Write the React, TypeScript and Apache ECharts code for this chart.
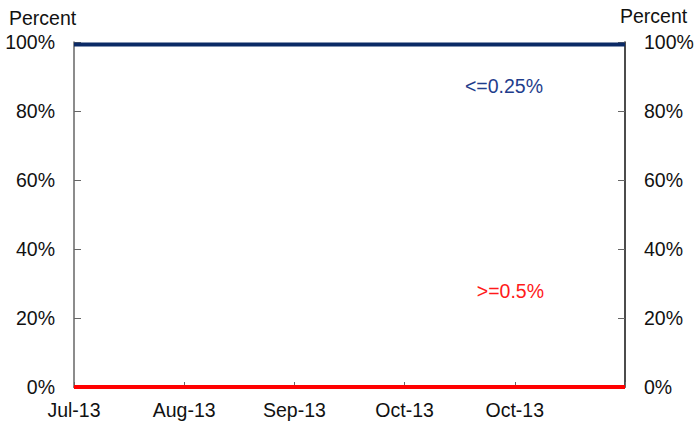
import React, { useEffect, useRef } from "react";
import * as echarts from "echarts";

const categories = ["Jul-13", "Aug-13", "Sep-13", "Oct-13", "Oct-13", ""];
const lowRate = [99.3, 99.3, 99.3, 99.3, 99.3, 99.3];
const highRate = [0, 0, 0, 0, 0, 0];
const yTicks = [0, 20, 40, 60, 80, 100];

const FONT = "Liberation Sans, Arial, sans-serif";
const FS = 19.5;

export default function App() {
  const ref = useRef<HTMLDivElement>(null);
  useEffect(() => {
    if (!ref.current) return;
    const chart = echarts.init(ref.current, undefined, { renderer: "svg" });
    const yAxisBase = {
      type: "value",
      min: yTicks[0],
      max: yTicks[yTicks.length - 1],
      interval: 20,
      splitLine: { show: false },
      axisTick: { show: true, inside: true, length: 7, lineStyle: { color: "#666", width: 1 } },
      axisLabel: {
        formatter: "{value}%",
        color: "#111",
        fontSize: FS,
        fontFamily: FONT,
        margin: 19,
      },
    };
    chart.setOption({
      animation: false,
      backgroundColor: "#ffffff",
      grid: { left: 74, right: 72, top: 42, bottom: 35, containLabel: false },
      xAxis: [
        {
          type: "category",
          data: categories,
          boundaryGap: false,
          axisLine: { show: true, lineStyle: { color: "#666", width: 1 } },
          axisTick: { show: true, inside: true, length: 5, lineStyle: { color: "#666" } },
          axisLabel: {
            color: "#111",
            fontSize: FS,
            fontFamily: FONT,
            margin: 13,
            interval: 0,
          },
          splitLine: { show: false },
        },
        {
          type: "category",
          data: categories,
          boundaryGap: false,
          position: "top",
          axisLine: { show: true, lineStyle: { color: "#666", width: 1.5 } },
          axisTick: { show: false },
          axisLabel: { show: false },
        },
      ],
      yAxis: [
        {
          ...yAxisBase,
          position: "left",
          axisLine: { show: true, lineStyle: { color: "#666", width: 1.5 } },
        },
        {
          ...yAxisBase,
          position: "right",
          axisLine: { show: true, lineStyle: { color: "#111", width: 1.5 } },
        },
      ],
      series: [
        {
          name: "<=0.25%",
          type: "line",
          data: lowRate,
          symbol: "none",
          lineStyle: { color: "#0b2a66", width: 4 },
          z: 5,
        },
        {
          name: ">=0.5%",
          type: "line",
          data: highRate,
          symbol: "none",
          lineStyle: { color: "#ff0000", width: 4 },
          z: 5,
        },
      ],
      graphic: [
        {
          type: "text",
          left: 9,
          top: 8,
          style: { text: "Percent", fontSize: FS, fontFamily: FONT, fill: "#111" },
        },
        {
          type: "text",
          left: 620,
          top: 6,
          style: { text: "Percent", fontSize: FS, fontFamily: FONT, fill: "#111" },
        },
        {
          type: "text",
          x: 543,
          y: 86,
          style: {
            text: "<=0.25%",
            fontSize: FS,
            fontFamily: FONT,
            fill: "#1f3d8c",
            align: "right",
            verticalAlign: "middle",
          },
        },
        {
          type: "text",
          x: 544,
          y: 291,
          style: {
            text: ">=0.5%",
            fontSize: FS,
            fontFamily: FONT,
            fill: "#ff1a1a",
            align: "right",
            verticalAlign: "middle",
          },
        },
      ],
    });
    return () => chart.dispose();
  }, []);
  return <div ref={ref} style={{ width: 697, height: 422, position: "absolute", left: 0, top: 0 }} />;
}
